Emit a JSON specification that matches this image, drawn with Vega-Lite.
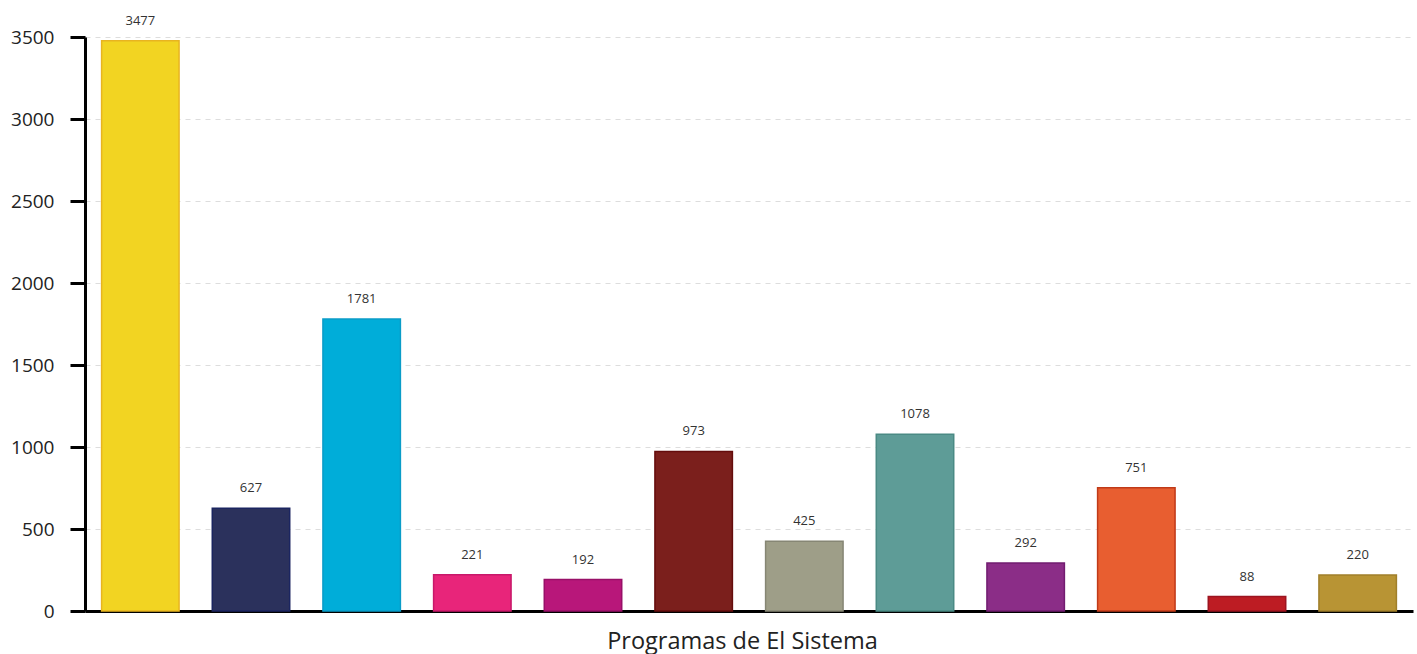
{
  "$schema": "https://vega.github.io/schema/vega-lite/v6.json",
  "autosize": {"type": "none"},
  "width": 1328,
  "height": 574,
  "padding": {"left": 85, "top": 37, "right": 4, "bottom": 43},
  "background": "#ffffff",
  "config": {
    "font": "Open Sans",
    "view": {"stroke": null}
  },
  "data": {
    "values": [
      {"programa": "P01", "valor": 3477},
      {"programa": "P02", "valor": 627},
      {"programa": "P03", "valor": 1781},
      {"programa": "P04", "valor": 221},
      {"programa": "P05", "valor": 192},
      {"programa": "P06", "valor": 973},
      {"programa": "P07", "valor": 425},
      {"programa": "P08", "valor": 1078},
      {"programa": "P09", "valor": 292},
      {"programa": "P10", "valor": 751},
      {"programa": "P11", "valor": 88},
      {"programa": "P12", "valor": 220}
    ]
  },
  "encoding": {
    "x": {
      "field": "programa",
      "type": "nominal",
      "sort": null,
      "scale": {"paddingInner": 0.3, "paddingOuter": 0.15},
      "axis": {
        "title": "Programas de El Sistema",
        "titleFontSize": 23.5,
        "titleFontWeight": "normal",
        "titleColor": "#222222",
        "titlePadding": 18,
        "titleX": 657,
        "labels": false,
        "ticks": false,
        "domainColor": "#000000",
        "domainWidth": 3
      }
    },
    "y": {
      "field": "valor",
      "type": "quantitative",
      "scale": {"domain": [0, 3500], "nice": false},
      "axis": {
        "title": null,
        "format": "d",
        "values": [0, 500, 1000, 1500, 2000, 2500, 3000, 3500],
        "labelFontSize": 19,
        "labelColor": "#222222",
        "labelPadding": 16,
        "tickSize": 15,
        "tickWidth": 3,
        "tickColor": "#000000",
        "domainColor": "#000000",
        "domainWidth": 3,
        "gridColor": "#dddddd",
        "gridDash": [5, 5],
        "gridWidth": 1
      }
    }
  },
  "layer": [
    {
      "mark": {"type": "bar", "strokeWidth": 1.5},
      "encoding": {
        "fill": {
          "field": "programa",
          "type": "nominal",
          "sort": null,
          "legend": null,
          "scale": {"range": ["#F2D422", "#2B315C", "#00ADD9", "#E8257A", "#B8177A", "#7B1F1C", "#9E9E88", "#5E9C97", "#8B2D87", "#E85E30", "#BD1C23", "#B89434"]}
        },
        "stroke": {
          "field": "programa",
          "type": "nominal",
          "sort": null,
          "legend": null,
          "scale": {"range": ["#E8B420", "#1B2560", "#0A9CC8", "#C8186A", "#981068", "#640C0C", "#868674", "#4A8A84", "#721C70", "#C03A18", "#9C1420", "#A07F2A"]}
        }
      }
    },
    {
      "mark": {"type": "text", "baseline": "middle", "dy": -20, "fontSize": 13, "color": "#333333"},
      "encoding": {
        "text": {"field": "valor", "type": "quantitative", "format": "d"}
      }
    }
  ]
}
